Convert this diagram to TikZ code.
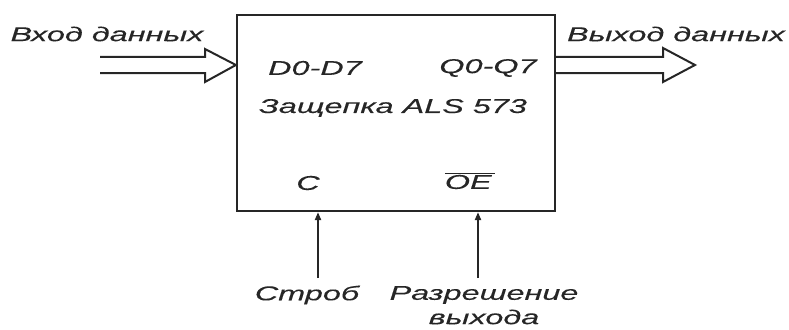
\documentclass[tikz,border=0pt]{standalone}
\usepackage{fontspec}
\setmainfont{Liberation Sans}[UprightFont=* Italic, FakeStretch=1.62, FakeBold=0.2]
\usetikzlibrary{arrows.meta}
\tikzset{
  lbl/.style={inner sep=0pt, font=\fontsize{20}{22}\selectfont, text=black!85},
  bus/.style={line width=2pt, line join=miter, draw=black!85},
  sig/.style={line width=2pt, draw=black!85, -{Triangle[length=8pt,width=6pt]}},
}
\begin{document}
\begin{tikzpicture}[x=1pt,y=-1pt]
\useasboundingbox (0,0) rectangle (789,329);
\node[draw=black!85, line width=2.2pt, minimum width=318pt, minimum height=196pt, inner sep=0pt] (latch) at (396,113) {};
% texts
\node[lbl] (in) at (107,34) {Вход данных};
\node[lbl] (out) at (676,34) {Выход данных};
\node[lbl] (d) at (315,68) {D0-D7};
\node[lbl] (q) at (488,68) {Q0-Q7};
\node[lbl] (name) at (393,108) {Защепка ALS 573};
\node[lbl] (c) at (308,183) {C};
\node[lbl] (oe) at (470,181) {$\overline{\mbox{OE}\,}$};
\node[lbl] (strob) at (307,295) {Строб};
\node[lbl] (en1) at (484,295) {Разрешение};
\node[lbl] (en2) at (484,317) {выхода};
% coordinates
\coordinate (inT) at (100,57);
\coordinate (inB) at (100,73);
\coordinate (outT) at (663,57);
\coordinate (outB) at (663,73);
% input bus arrow
\draw[bus] (inT) -- (205,57) -- (205,49) -- (latch.west |- 0,65) -- (205,82) -- (205,73) -- (inB);
% output bus arrow
\draw[bus] (latch.east |- 0,57) -- (outT) -- (663,48) -- (695,65) -- (663,82) -- (outB) -- (latch.east |- 0,73);
% control arrows
\coordinate (cS) at (318,278);
\coordinate (oeS) at (478,278);
\draw[sig] (cS) -- (latch.south -| cS);
\draw[sig] (oeS) -- (latch.south -| oeS);
\end{tikzpicture}
\end{document}
